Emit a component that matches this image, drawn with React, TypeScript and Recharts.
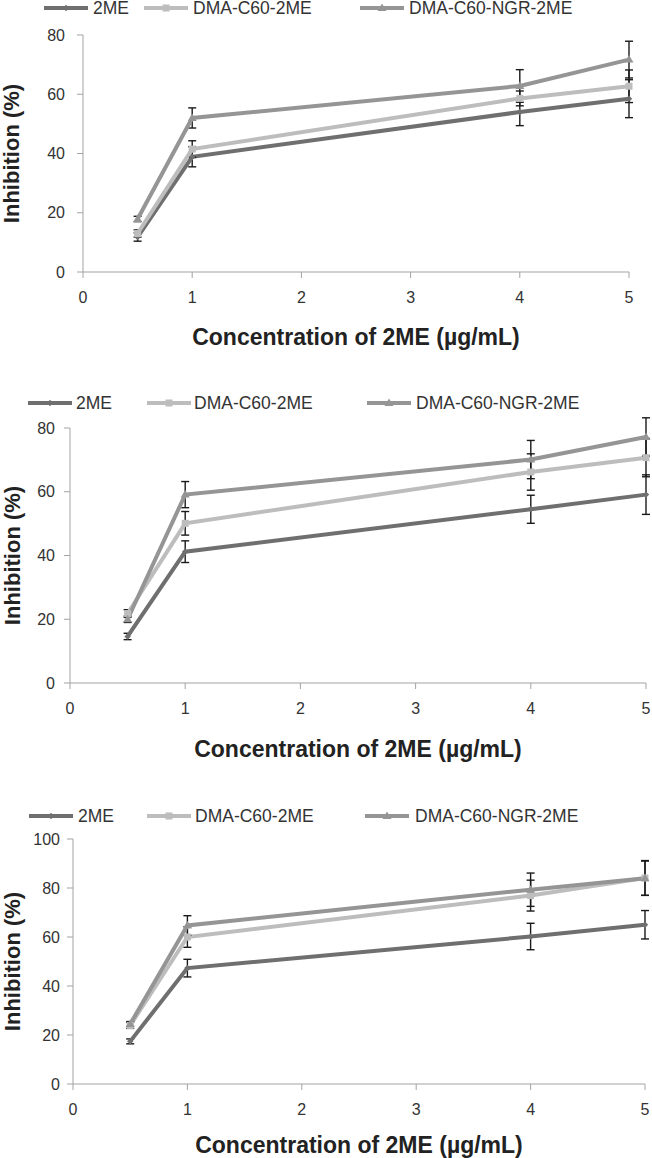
import { LineChart, Line, XAxis, YAxis, ErrorBar, Legend, Label } from 'recharts';

const concentrations = [0.5, 1, 4, 5];
const xTicks = [0, 1, 2, 3, 4, 5];
const seriesNames = ['2ME', 'DMA-C60-2ME', 'DMA-C60-NGR-2ME'];

// panel 1
const p1Me = [11.8, 38.9, 54.0, 58.5];
const p1MeErr = [1.4, 3.4, 4.6, 6.4];
const p1Dma = [13.0, 41.5, 58.6, 62.7];
const p1DmaErr = [1.2, 2.8, 2.5, 5.5];
const p1Ngr = [17.9, 52.0, 62.8, 71.7];
const p1NgrErr = [0.9, 3.4, 5.5, 6.2];

// panel 2
const p2Me = [14.6, 41.2, 54.5, 59.1];
const p2MeErr = [1.0, 3.4, 4.4, 6.2];
const p2Dma = [21.8, 50.1, 66.2, 70.7];
const p2DmaErr = [1.2, 3.7, 5.7, 6.0];
const p2Ngr = [20.0, 59.1, 70.1, 77.2];
const p2NgrErr = [1.0, 4.1, 6.0, 6.0];

// panel 3
const p3Me = [17.4, 47.3, 60.2, 65.0];
const p3MeErr = [1.0, 3.6, 5.4, 5.8];
const p3Dma = [23.9, 60.0, 76.9, 84.1];
const p3DmaErr = [1.2, 4.2, 6.3, 7.1];
const p3Ngr = [24.5, 64.7, 79.3, 84.0];
const p3NgrErr = [1.0, 4.0, 6.8, 7.0];

const COLORS = ['#6f6f6f', '#bdbdbd', '#959595'];
const AXIS = '#a3a3a3';
const FONT = '"Liberation Sans", Arial, sans-serif';

const buildRows = (me: number[], meErr: number[], dma: number[], dmaErr: number[], ngr: number[], ngrErr: number[]) =>
  concentrations.map((x, i) => ({
    x,
    me: me[i],
    meErr: meErr[i],
    dma: dma[i],
    dmaErr: dmaErr[i],
    ngr: ngr[i],
    ngrErr: ngrErr[i],
  }));

const marker = (kind: number, cx: number, cy: number, color: string, key?: any) => {
  if (kind === 0) {
    const r = 3.2;
    return <path key={key} d={`M${cx},${cy - r}L${cx + r},${cy}L${cx},${cy + r}L${cx - r},${cy}Z`} fill={color} />;
  }
  if (kind === 1) {
    return <rect key={key} x={cx - 3.5} y={cy - 3.5} width={7} height={7} fill={color} />;
  }
  return <path key={key} d={`M${cx},${cy - 4.5}L${cx + 4.5},${cy + 3}L${cx - 4.5},${cy + 3}Z`} fill={color} />;
};

const dotFor = (kind: number) => (props: any) => {
  const { cx, cy, index } = props;
  if (cx == null || cy == null) return <g key={index} />;
  return marker(kind, cx, cy, COLORS[kind], index);
};

type PanelProps = {
  rows: ReturnType<typeof buildRows>;
  top: number;
  height: number;
  marginTop: number;
  marginRight: number;
  yWidth: number;
  xHeight: number;
  yMax: number;
  yTicks: number[];
  yTickMargin: number;
  yTitleOffset: number;
  xTitleOffset: number;
  legendY: number;
  legendPos: Array<[number, number]>;
};

const Panel = (p: PanelProps) => {
  const renderLegend = () => (
    <svg width={652} height={24} style={{ display: 'block' }}>
      {seriesNames.map((name, i) => (
        <g key={name}>
          <line x1={p.legendPos[i][0]} x2={p.legendPos[i][0] + 44} y1={12} y2={12} stroke={COLORS[i]} strokeWidth={4} />
          {marker(i, p.legendPos[i][0] + 22, 12, COLORS[i])}
          <text x={p.legendPos[i][1]} y={12} dy="0.36em" fontSize={17.5} fill="#333" fontFamily={FONT}>
            {name}
          </text>
        </g>
      ))}
    </svg>
  );

  return (
    <div style={{ position: 'absolute', top: p.top, left: 0 }}>
      <LineChart
        width={652}
        height={p.height}
        data={p.rows}
        margin={{ top: p.marginTop, right: p.marginRight, bottom: 0, left: 0 }}
      >
        <Legend
          verticalAlign="middle"
          layout="horizontal"
          content={renderLegend}
          wrapperStyle={{ top: p.legendY - 12, left: 0, width: 652, height: 24 }}
        />
        <XAxis
          type="number"
          dataKey="x"
          domain={[0, 5]}
          ticks={xTicks}
          height={p.xHeight}
          stroke={AXIS}
          tickLine={{ stroke: AXIS }}
          tickMargin={14}
          tick={{ fill: '#333', fontSize: 16, fontFamily: FONT }}
        >
          <Label
            value="Concentration of 2ME (µg/mL)"
            position="insideTop"
            offset={p.xTitleOffset}
            style={{ fill: '#222', fontSize: 23, fontWeight: 'bold', fontFamily: FONT }}
          />
        </XAxis>
        <YAxis
          type="number"
          domain={[0, p.yMax]}
          ticks={p.yTicks}
          allowDataOverflow
          width={p.yWidth}
          stroke={AXIS}
          tickLine={{ stroke: AXIS }}
          tickMargin={p.yTickMargin}
          tick={{ fill: '#333', fontSize: 16, fontFamily: FONT }}
        >
          <Label
            value="Inhibition (%)"
            angle={-90}
            position="insideLeft"
            offset={p.yTitleOffset}
            style={{ textAnchor: 'middle', fill: '#222', fontSize: 22, fontWeight: 'bold', fontFamily: FONT }}
          />
        </YAxis>
        <Line
          dataKey="me"
          name={seriesNames[0]}
          stroke={COLORS[0]}
          strokeWidth={4}
          dot={dotFor(0)}
          activeDot={false}
          isAnimationActive={false}
        >
          <ErrorBar dataKey="meErr" direction="y" width={4} stroke="#1a1a1a" strokeWidth={1.4} />
        </Line>
        <Line
          dataKey="dma"
          name={seriesNames[1]}
          stroke={COLORS[1]}
          strokeWidth={4}
          dot={dotFor(1)}
          activeDot={false}
          isAnimationActive={false}
        >
          <ErrorBar dataKey="dmaErr" direction="y" width={4} stroke="#1a1a1a" strokeWidth={1.4} />
        </Line>
        <Line
          dataKey="ngr"
          name={seriesNames[2]}
          stroke={COLORS[2]}
          strokeWidth={4}
          dot={dotFor(2)}
          activeDot={false}
          isAnimationActive={false}
        >
          <ErrorBar dataKey="ngrErr" direction="y" width={4} stroke="#1a1a1a" strokeWidth={1.4} />
        </Line>
      </LineChart>
    </div>
  );
};

export default function App() {
  return (
    <div style={{ position: 'absolute', top: 0, left: 0, width: 652, height: 1158, background: '#fff' }}>
      <Panel
        rows={buildRows(p1Me, p1MeErr, p1Dma, p1DmaErr, p1Ngr, p1NgrErr)}
        top={0}
        height={360}
        marginTop={35}
        marginRight={23}
        yWidth={83}
        xHeight={88}
        yMax={80}
        yTicks={[0, 20, 40, 60, 80]}
        yTickMargin={12}
        yTitleOffset={11}
        xTitleOffset={57}
        legendY={8}
        legendPos={[[44, 93], [144, 193], [360, 409]]}
      />
      <Panel
        rows={buildRows(p2Me, p2MeErr, p2Dma, p2DmaErr, p2Ngr, p2NgrErr)}
        top={370}
        height={400}
        marginTop={58}
        marginRight={6}
        yWidth={70}
        xHeight={87}
        yMax={80}
        yTicks={[0, 20, 40, 60, 80]}
        yTickMargin={9}
        yTitleOffset={12}
        xTitleOffset={58}
        legendY={33}
        legendPos={[[28, 76], [147, 194], [367, 416]]}
      />
      <Panel
        rows={buildRows(p3Me, p3MeErr, p3Dma, p3DmaErr, p3Ngr, p3NgrErr)}
        top={770}
        height={388}
        marginTop={69}
        marginRight={7}
        yWidth={73}
        xHeight={74}
        yMax={100}
        yTicks={[0, 20, 40, 60, 80, 100]}
        yTickMargin={7}
        yTitleOffset={12}
        xTitleOffset={53}
        legendY={46}
        legendPos={[[29, 78], [147, 195], [365, 415]]}
      />
    </div>
  );
}
